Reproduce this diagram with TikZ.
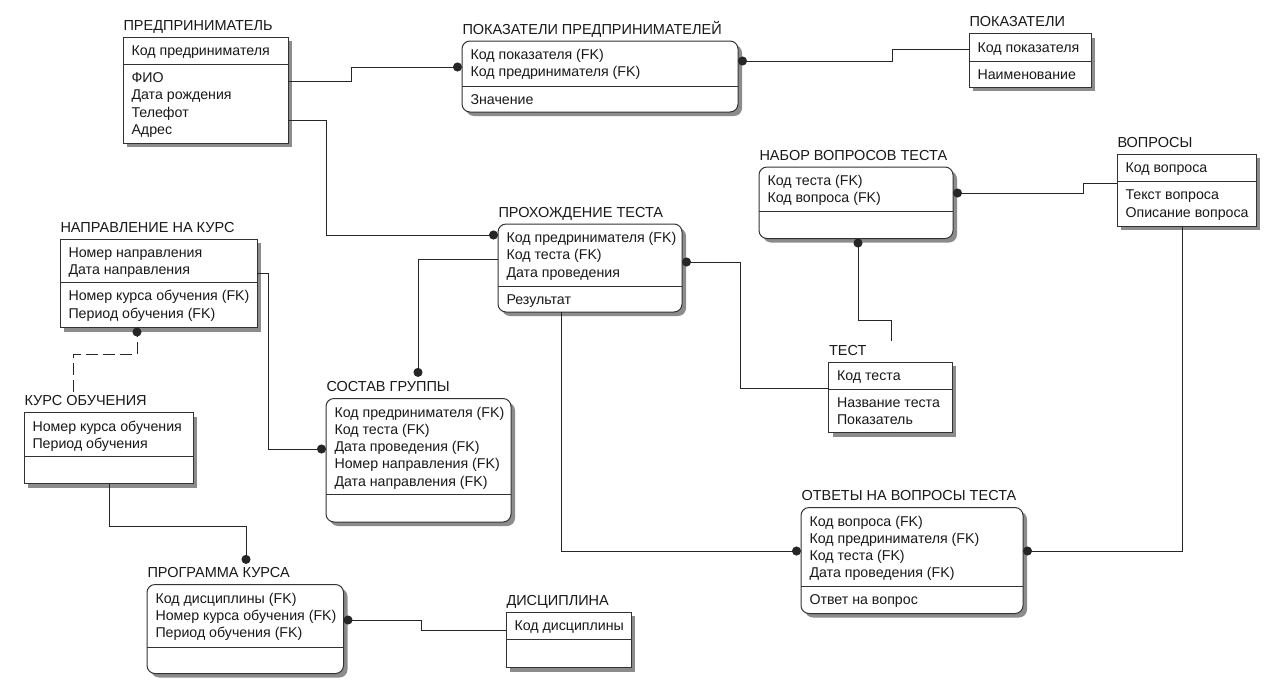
\documentclass[tikz,border=0pt]{standalone}
\usepackage{fontspec}
\setmainfont{Liberation Sans}
\usetikzlibrary{arrows.meta,shadows}

\tikzset{
  box/.style={draw=black!80,fill=white,anchor=north west,inner sep=0pt,outer sep=0pt,
    general shadow={fill=black!45,shadow xshift=4pt,shadow yshift=-4pt}},
  ind/.style={},
  dep/.style={rounded corners=8pt},
  etitle/.style={anchor=base west,inner sep=0pt,text=black!90,font=\fontsize{14.5}{17.3}\selectfont},
  rows/.style={anchor=north west,align=left,inner sep=0pt,text=black!90,font=\fontsize{14.2}{17.3}\selectfont},
  rel/.style={draw=black!85,-{Circle[length=9pt]}},
}

% entity: name, corners, top left, width, height, key area height, title, keys, attributes
\newcommand{\entity}[9]{%
  \node[box,#2,minimum width=#4pt,minimum height=#5pt] (#1) at (#3) {};
  \draw[black!80] ([yshift=-#6pt]#1.north west) -- ([yshift=-#6pt]#1.north east);
  \node[etitle] (#1-t) at ([yshift=7pt]#1.north west) {#7};
  \node[rows] (#1-k) at ([xshift=8pt,yshift=-5.9pt]#1.north west) {\strut#8};
  \node[rows] (#1-a) at ([xshift=8pt,yshift=-#6pt-5.4pt]#1.north west) {\strut#9};
}

\begin{document}
\begin{tikzpicture}[x=1pt,y=-1pt,line width=1pt]
\fill[white] (0,0) rectangle (1268,686);
\useasboundingbox (0,0) rectangle (1268,686);

\entity{pred}{ind}{123,37}{165}{106}{27.5}{ПРЕДПРИНИМАТЕЛЬ}{Код предринимателя}{ФИО\\Дата рождения\\Телефот\\Адрес}
\entity{pokpred}{dep}{462,41}{276}{71}{45}{ПОКАЗАТЕЛИ ПРЕДПРИНИМАТЕЛЕЙ}{Код показателя (FK)\\Код предринимателя (FK)}{Значение}
\entity{pok}{ind}{969,33.5}{122}{53.5}{27.5}{ПОКАЗАТЕЛИ}{Код показателя}{Наименование}
\entity{nabor}{dep}{759,167}{194}{71.5}{44.7}{НАБОР ВОПРОСОВ ТЕСТА}{Код теста (FK)\\Код вопроса (FK)}{}
\entity{vopr}{ind}{1117,154}{139}{72}{27.7}{ВОПРОСЫ}{Код вопроса}{Текст вопроса\\Описание вопроса}
\entity{prox}{dep}{498,224}{184}{88}{62}{ПРОХОЖДЕНИЕ ТЕСТА}{Код предринимателя (FK)\\Код теста (FK)\\Дата проведения}{Результат}
\entity{napr}{ind}{60,239}{197}{88.5}{43.7}{НАПРАВЛЕНИЕ НА КУРС}{Номер направления\\Дата направления}{Номер курса обучения (FK)\\Период обучения (FK)}
\entity{kurs}{ind}{24,412.5}{169}{71}{44.2}{КУРС ОБУЧЕНИЯ}{Номер курса обучения\\Период обучения}{}
\entity{sostav}{dep}{326,398.5}{185}{123.5}{96}{СОСТАВ ГРУППЫ}{Код предринимателя (FK)\\Код теста (FK)\\Дата проведения (FK)\\Номер направления (FK)\\Дата направления (FK)}{}
\entity{test}{ind}{828.5,362}{123.5}{70.5}{27.5}{ТЕСТ}{Код теста}{Название теста\\Показатель}
\entity{otvet}{dep}{801,507.5}{222}{106}{79.2}{ОТВЕТЫ НА ВОПРОСЫ ТЕСТА}{Код вопроса (FK)\\Код предринимателя (FK)\\Код теста (FK)\\Дата проведения (FK)}{Ответ на вопрос}
\entity{prog}{dep}{147,584.5}{196.5}{89}{62.8}{ПРОГРАММА КУРСА}{Код дисциплины (FK)\\Номер курса обучения (FK)\\Период обучения (FK)}{}
\entity{disc}{ind}{506,612}{125}{55.5}{27.5}{ДИСЦИПЛИНА}{Код дисциплины}{}

% relationships
\draw[rel] (pred.east |- 0,81) -| (351,67) -- (pokpred.west |- 0,67);
\draw[rel] (pred.east |- 0,120) -| (326,235) -- (prox.west |- 0,235);
\draw[rel] (pok.west |- 0,49) -| (892,61) -- (pokpred.east |- 0,61);
\draw[rel] (vopr.west |- 0,183) -| (1083,193) -- (nabor.east |- 0,193);
\draw[rel,shorten <=3pt] (test-t.north -| 891,0) |- (858,320) -- (nabor.south -| 858,0);
\draw[rel] (test.west |- 0,388) -| (740,262) -- (prox.east |- 0,262);
\draw[rel] (prox.south -| 561,0) |- (otvet.west |- 0,551);
\draw[rel] (vopr.south -| 1182,0) |- (otvet.east |- 0,551);
\draw[rel,shorten >=4pt] (prox.west |- 0,259) -| (sostav-t.north -| 418,0);
\draw[rel] (napr.east |- 0,273) -| (268,449) -- (sostav.west |- 0,449);
\draw[rel,dash pattern=on 12pt off 5pt,shorten <=3pt] (kurs-t.north -| 73,0) |- (137,354) -- (napr.south -| 137,0);
\draw[rel,shorten >=3pt] (kurs.south -| 109,0) |- (246,526) -- (prog-t.north -| 246,0);
\draw[rel] (disc.west |- 0,630) -| (421,620) -- (prog.east |- 0,620);
\end{tikzpicture}
\end{document}
